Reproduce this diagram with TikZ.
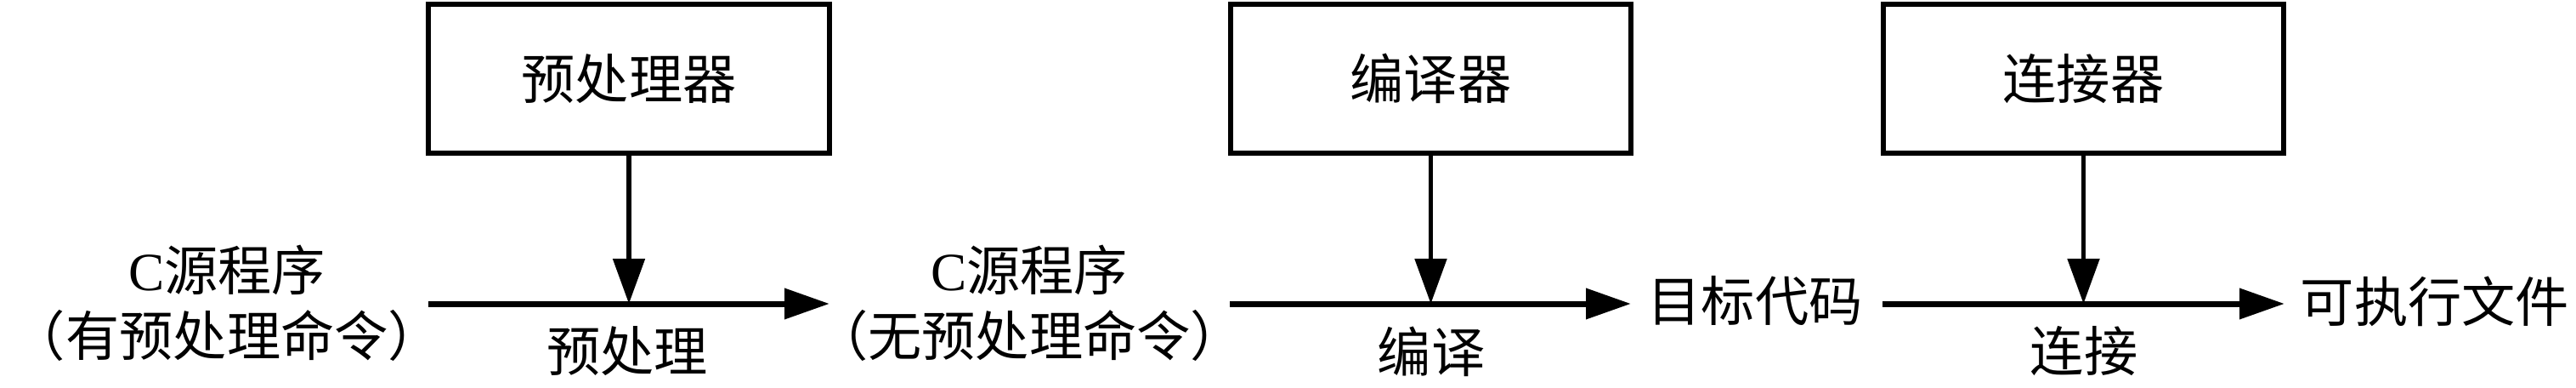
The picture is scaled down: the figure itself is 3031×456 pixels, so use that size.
\documentclass[tikz,border=0pt]{standalone}
\usepackage{fontspec}
\setmainfont{Noto Sans CJK SC}
\newfontfamily\latinserif{Liberation Serif}
\usetikzlibrary{arrows.meta}
\begin{document}
\begin{tikzpicture}[x=0.02cm,y=-0.02cm,
  box/.style={draw,line width=0.12cm,minimum width=9.44cm,minimum height=3.5cm,inner sep=0pt,outer sep=0pt,font=\fontsize{36}{43}\selectfont},
  lbl/.style={inner sep=0pt,font=\fontsize{36}{43.8}\selectfont,align=center},
  flow/.style={line width=0.14cm,-{Triangle[length=1.06cm,width=0.70cm]}},
  feed/.style={line width=0.105cm,-{Triangle[length=1.06cm,width=0.74cm]}}]
\useasboundingbox (0,0) rectangle (3031,456);
% tool boxes
\node[box] (b1) at (740,92.5) {预处理器};
\node[box] (b2) at (1683.5,92.5) {编译器};
\node[box] (b3) at (2451.5,92.5) {连接器};
% texts
\node[lbl] (src1) at (267,356) {{\latinserif C}源程序\\（有预处理命令）};
\node[lbl] (src2) at (1211,356) {{\latinserif C}源程序\\（无预处理命令）};
\node[lbl] (obj) at (2065,354) {目标代码};
\node[lbl] (exe) at (2865,354) {可执行文件};
\node[lbl] (l1) at (738,413) {预处理};
\node[lbl] (l2) at (1684,413) {编译};
\node[lbl] (l3) at (2452,413) {连接};
% flow line end points
\coordinate (s1) at (504,357);
\coordinate (e1) at (976,357);
\coordinate (s2) at (1447,357);
\coordinate (e2) at (1919,357);
\coordinate (s3) at (2215,357);
\coordinate (e3) at (2688,357);
\draw[flow] (s1) -- (e1);
\draw[flow] (s2) -- (e2);
\draw[flow] (s3) -- (e3);
\draw[feed] (b1.south) -- (b1.south |- s1);
\draw[feed] (b2.south) -- (b2.south |- s2);
\draw[feed] (b3.south) -- (b3.south |- s3);
\end{tikzpicture}
\end{document}
